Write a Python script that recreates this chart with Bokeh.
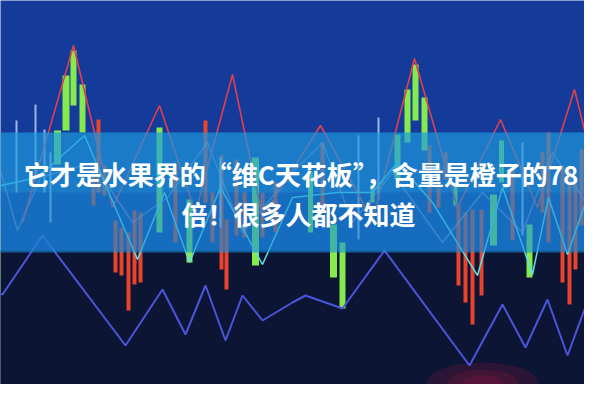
import numpy as np
from bokeh.plotting import figure
from bokeh.models import Range1d
from bokeh.embed import file_html
from bokeh.resources import INLINE
from bokeh.core.properties import value

green_x   = [4, 65, 73.5, 81, 90, 167, 197, 263, 318, 341, 350, 380, 405, 415, 423, 432, 463, 501, 509, 537, 596]
green_top = [218, 138, 83, 58, 92, 135, 207, 165, 180, 232, 250, 192, 142, 97, 72, 105, 193, 202, 148, 232, 177]
green_bot = [300, 172, 138, 113, 140, 240, 270, 273, 240, 285, 316, 210, 187, 150, 128, 158, 213, 253, 190, 285, 240]
green_w   = [9, 7, 7, 6, 6, 6, 6, 7, 5, 7, 6, 4, 6, 6, 6, 6, 4, 7, 5, 6, 7]

red_x   = [101, 106, 112, 123, 129, 136, 142, 148, 183, 213, 220, 229, 234, 244, 252, 270, 283, 330,
           437, 446, 453, 466, 473, 480, 489, 520, 550, 556, 570, 577, 583, 589]
red_top = [170, 127, 173, 228, 235, 240, 218, 220, 173, 128, 200, 163, 227, 167, 200, 200, 190, 150,
           153, 173, 160, 213, 220, 217, 217, 173, 160, 140, 173, 175, 190, 157]
red_bot = [213, 200, 203, 280, 283, 318, 292, 290, 250, 210, 250, 277, 297, 243, 245, 245, 240, 220,
           220, 215, 187, 293, 310, 332, 303, 248, 220, 250, 290, 312, 277, 233]

pale_x   = [24, 43, 52, 58, 228, 366, 386, 530]
pale_top = [128, 112, 137, 160, 165, 143, 125, 150]
pale_bot = [200, 185, 200, 230, 235, 247, 207, 243]

redline_x = [30, 81, 120, 167, 203, 240, 270, 328, 380, 422, 465, 508, 545, 582, 600]
redline_y = [230, 53, 215, 113, 220, 82, 225, 133, 228, 66, 215, 127, 215, 97, 170]

cyan_x = [0, 45, 92, 145, 172, 197, 228, 270, 300, 345, 380, 405, 440, 485, 510, 540, 556, 575, 600]
cyan_y = [195, 185, 143, 267, 200, 270, 195, 272, 205, 200, 200, 170, 210, 283, 195, 282, 205, 262, 190]

lav_x = [0, 25, 48, 100, 140, 175, 215, 250, 300, 330, 360, 400, 450, 490, 530, 560, 600]
lav_y = [150, 238, 185, 170, 230, 205, 150, 240, 180, 150, 230, 180, 250, 200, 240, 160, 220]

blue_x = [0, 10, 50, 133, 170, 193, 213, 233, 250, 270, 300, 313, 350, 392, 477, 510, 533, 555, 575, 592, 600]
blue_y = [298, 302, 243, 353, 297, 342, 293, 348, 303, 328, 310, 303, 316, 258, 373, 312, 355, 307, 363, 317, 330]

title_lines = ["它才是水果界的“维C天花板”，含量是橙子的78", "倍！很多人都不知道"]
title_x = [315, 306]
title_y = [181, 221]

band_top, band_bot = 140, 260


def up(v):
    return [400 - float(t) for t in v]


p = figure(width=584, height=384, x_range=Range1d(8, 592), y_range=Range1d(8, 392),
           output_backend="svg", toolbar_location=None, min_border=0)
p.axis.visible = False
p.grid.visible = False
p.outline_line_color = None
p.background_fill_color = "#143a9a"
p.border_fill_color = "#143a9a"

# dark lower part of the background
p.quad(left=0, right=600, top=up([258])[0], bottom=0, fill_color="#0d1535", line_color=None)
p.ellipse(x=490, y=10, width=[110, 70, 40], height=[40, 26, 14],
          fill_color="#b0183c", fill_alpha=0.18, line_color=None)

# candles
p.vbar(x=red_x, width=4, top=up(red_top), bottom=up(red_bot), fill_color="#e8432c", line_color=None)
p.vbar(x=green_x, width=green_w, top=up(green_top), bottom=up(green_bot), fill_color="#86ea4e", line_color=None)
p.segment(x0=pale_x, y0=up(pale_top), x1=pale_x, y1=up(pale_bot), line_color="#b4cdf2", line_width=2, line_alpha=0.85)

# lines
p.line(lav_x, up(lav_y), line_color="#a59ccc", line_width=1.5, line_alpha=0.6)
p.line(redline_x, up(redline_y), line_color="#e0404e", line_width=1.6)
p.line(cyan_x, up(cyan_y), line_color="#5fe0e6", line_width=1.5)
p.line(blue_x, up(blue_y), line_color="#4a55dc", line_width=2)

# translucent band (two layers for a lighter top half)
p.quad(left=0, right=600, top=up([band_top])[0], bottom=up([band_bot])[0], fill_color="#1890d8", fill_alpha=0.6, line_color=None)
p.quad(left=0, right=600, top=up([band_top])[0], bottom=up([200])[0], fill_color="#2fb6f0", fill_alpha=0.2, line_color=None)

# title text
p.text(x=title_x, y=up(title_y), text=title_lines, text_font=value("Noto Sans CJK SC"),
       text_font_style="bold", text_font_size="26px", text_color="white",
       text_align="center", text_baseline="middle")

open("out.html", "w").write(file_html(p, INLINE))
